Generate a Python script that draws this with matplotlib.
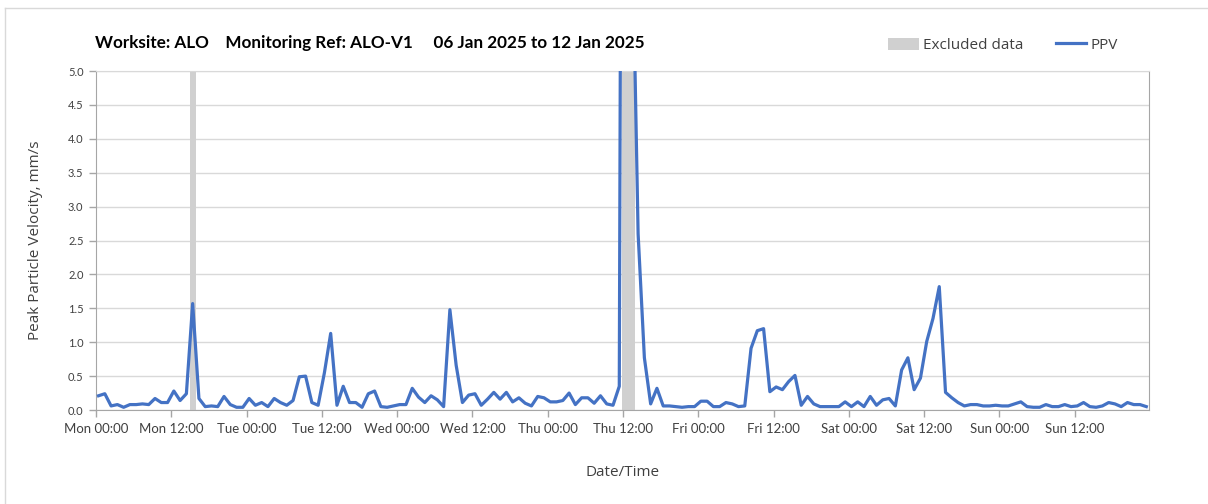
import numpy as np
import pandas as pd
import matplotlib
matplotlib.use("Agg")
import matplotlib.pyplot as plt
import matplotlib.dates as mdates
from matplotlib.lines import Line2D

# hourly PPV readings, 06 Jan 2025 to 12 Jan 2025 (mm/s)
ppv = [0.21, 0.24, 0.06, 0.08, 0.04, 0.08, 0.08, 0.09, 0.08, 0.17,
       0.11, 0.11, 0.28, 0.14, 0.24, 1.57, 0.17, 0.05, 0.06, 0.05,
       0.20, 0.08, 0.04, 0.04, 0.17, 0.07, 0.11, 0.05, 0.17, 0.11,
       0.07, 0.14, 0.49, 0.50, 0.11, 0.07, 0.55, 1.13, 0.07, 0.35,
       0.11, 0.11, 0.04, 0.24, 0.28, 0.05, 0.04, 0.06, 0.08, 0.08,
       0.32, 0.19, 0.11, 0.21, 0.15, 0.05, 1.48, 0.66, 0.11, 0.22,
       0.24, 0.07, 0.16, 0.26, 0.16, 0.26, 0.12, 0.18, 0.10, 0.06,
       0.20, 0.18, 0.12, 0.12, 0.14, 0.25, 0.08, 0.18, 0.18, 0.10,
       0.21, 0.09, 0.07, 0.35, 30.0, 7.5, 2.60, 0.77, 0.09, 0.32,
       0.06, 0.06, 0.05, 0.04, 0.05, 0.05, 0.13, 0.13, 0.05, 0.05,
       0.11, 0.09, 0.05, 0.06, 0.91, 1.17, 1.20, 0.27, 0.34, 0.30,
       0.42, 0.51, 0.07, 0.20, 0.09, 0.05, 0.05, 0.05, 0.05, 0.12,
       0.05, 0.12, 0.05, 0.20, 0.07, 0.15, 0.17, 0.06, 0.59, 0.77,
       0.30, 0.47, 1.01, 1.35, 1.82, 0.26, 0.18, 0.11, 0.06, 0.08,
       0.08, 0.06, 0.06, 0.07, 0.06, 0.06, 0.09, 0.12, 0.05, 0.04,
       0.04, 0.08, 0.05, 0.05, 0.08, 0.05, 0.06, 0.11, 0.05, 0.04,
       0.06, 0.11, 0.09, 0.05, 0.11, 0.08, 0.08, 0.05]
times = pd.date_range("2025-01-06 00:24", periods=len(ppv), freq="h")

# readings flagged as excluded
excluded = [15, 84, 85]
excluded_times = times[excluded]

y_max = 5.0
x_start = pd.Timestamp("2025-01-06 00:00")
x_end = pd.Timestamp("2025-01-12 23:48")

title = "Worksite: ALO    Monitoring Ref: ALO-V1     06 Jan 2025 to 12 Jan 2025"

fig = plt.figure(figsize=(12.08, 5.04), dpi=100)
ax = fig.add_axes([0.0795, 0.1865, 0.8715, 0.6725])

bars = ax.bar(excluded_times, y_max, width=1.0 / 24, color="#d0d0d0",
              edgecolor="none", align="center", zorder=1)
line, = ax.plot(times, ppv, color="#4472c4", lw=2.3, zorder=3)

ax.set_ylim(0, y_max)
ax.set_yticks(np.arange(0, 5.01, 0.5))
ax.yaxis.set_major_formatter(plt.FormatStrFormatter("%.1f"))
ax.set_xlim(x_start, x_end)

# labels every 12 h, gridlines only at midnight
ax.xaxis.set_major_locator(mdates.HourLocator(byhour=[0, 12]))
ax.xaxis.set_major_formatter(mdates.DateFormatter("%a %H:%M"))
ax.xaxis.set_minor_locator(mdates.DayLocator())
ax.grid(axis="x", which="minor", color="#d9d9d9", lw=1.0, zorder=0)
ax.grid(axis="y", which="major", color="#d9d9d9", lw=1.0, zorder=0)
ax.set_axisbelow(True)

ax.tick_params(axis="x", which="major", length=5, width=1, color="#a6a6a6",
               labelsize=9.5, labelcolor="#404040", pad=4)
ax.tick_params(axis="x", which="minor", length=0)
ax.tick_params(axis="y", length=5, width=1, color="#a6a6a6",
               labelsize=8, labelcolor="#404040", pad=4)
for lab in ax.get_xticklabels() + ax.get_yticklabels():
    lab.set_fontfamily("Lato")

for side in ["left", "bottom", "right"]:
    ax.spines[side].set_color("#a6a6a6")
ax.spines["top"].set_color("#d9d9d9")

ax.set_ylabel("Peak Particle Velocity, mm/s", fontsize=11, color="#404040",
              family="Open Sans", labelpad=18)
ax.set_xlabel("Date/Time", fontsize=11, color="#404040",
              family="Open Sans", labelpad=22)

fig.text(0.0787, 0.915, title, fontsize=12.3, fontweight="bold",
         family="Lato", va="center", ha="left", color="#000000")

fig.legend([bars, line], ["Excluded data", "PPV"],
           loc="center right", bbox_to_anchor=(0.937, 0.91), ncol=2,
           frameon=False, prop={"family": "Open Sans", "size": 11},
           handlelength=2.0, handleheight=0.9, columnspacing=2.1,
           handletextpad=0.3, labelcolor="#404040")

# chart area border (left and top edges visible)
fig.add_artist(Line2D([0.0045, 0.0045], [0.0, 0.984], color="#d9d9d9", lw=1))
fig.add_artist(Line2D([0.0045, 1.0], [0.984, 0.984], color="#d9d9d9", lw=1))

plt.savefig("out.png", dpi=100)
